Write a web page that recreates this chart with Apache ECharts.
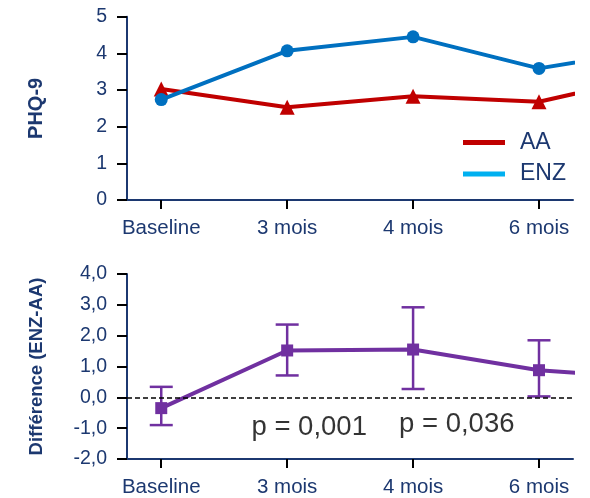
<!DOCTYPE html>
<html>
<head>
<meta charset="utf-8">
<script src="https://cdn.jsdelivr.net/npm/echarts@6/dist/echarts.min.js"></script>
<style>
html,body{margin:0;padding:0;background:#fff;}
#chart{width:590px;height:498px;}
</style>
</head>
<body>
<div id="chart"></div>
<script>
// Timepoints (the 5th value of each series is the next, off-axis timepoint whose segment is clipped at the right edge)
const categories = ['Baseline', '3 mois', '4 mois', '6 mois'];
const phqAA  = [3.03, 2.53, 2.83, 2.68, 3.46];
const phqENZ = [2.74, 4.07, 4.45, 3.59, 4.15];
const diffMean = [-0.35, 1.52, 1.55, 0.88, 0.58];
const diffLow  = [-0.90, 0.71, 0.27, 0.03];
const diffHigh = [0.34, 2.36, 2.92, 1.85];
const phqTicks = [0, 1, 2, 3, 4, 5];
const diffTicks = ['-2,0', '-1,0', '0,0', '1,0', '2,0', '3,0', '4,0'];
const pValues = ['p = 0,001', 'p = 0,036'];
const pAnchors = [[1.175, -0.98], [2.347, -0.87]];

const navy = '#1c3870';
const font = 'Liberation Sans, Arial, sans-serif';
const catIdx = categories.map((c, i) => i);

function xAxisCfg(gi) {
  return {
    type: 'value', gridIndex: gi, min: -0.272, max: 3.27,
    axisLine: { show: true, onZero: false, lineStyle: { color: navy, width: 2 } },
    axisTick: { show: true, customValues: catIdx, length: 9, lineStyle: { color: '#000', width: 2 } },
    axisLabel: { customValues: catIdx, formatter: v => categories[Math.round(v)], color: navy, fontSize: 20.5, margin: 18, fontFamily: font },
    splitLine: { show: false }
  };
}

const chart = echarts.init(document.getElementById('chart'), null, { renderer: 'canvas' });
chart.setOption({
  backgroundColor: '#fff',
  animation: false,
  grid: [
    { left: 127, right: 17, top: 16.7, height: 183.3 },
    { left: 127, right: 17, top: 274, height: 185 }
  ],
  xAxis: [xAxisCfg(0), xAxisCfg(1)],
  yAxis: [
    {
      type: 'value', gridIndex: 0, min: phqTicks[0], max: phqTicks[phqTicks.length - 1], interval: 1,
      name: 'PHQ-9', nameLocation: 'middle', nameRotate: 90, nameGap: 81,
      nameTextStyle: { color: navy, fontSize: 20, fontWeight: 'bold', fontFamily: font },
      axisLine: { show: true, onZero: false, lineStyle: { color: navy, width: 2 } },
      axisTick: { show: true, length: 10, lineStyle: { color: '#000', width: 2 } },
      axisLabel: { color: navy, fontSize: 19.5, margin: 20, fontFamily: font },
      splitLine: { show: false }
    },
    {
      type: 'value', gridIndex: 1, min: -2, max: 4, interval: 1,
      name: 'Différence (ENZ-AA)', nameLocation: 'middle', nameRotate: 90, nameGap: 81,
      nameTextStyle: { color: navy, fontSize: 18.5, fontWeight: 'bold', fontFamily: font },
      axisLine: { show: true, onZero: false, lineStyle: { color: navy, width: 2 } },
      axisTick: { show: true, length: 10, lineStyle: { color: '#000', width: 2 } },
      axisLabel: { color: navy, fontSize: 19.5, margin: 20, fontFamily: font,
        formatter: v => diffTicks[Math.round(v) + 2] },
      splitLine: { show: false }
    }
  ],
  legend: [
    {
      data: [{ name: 'AA', icon: 'rect', itemStyle: { color: '#c00000' } }],
      orient: 'vertical', left: 463, top: 131, padding: 0, itemWidth: 42, itemHeight: 5,
      textStyle: { fontSize: 23, color: navy, fontFamily: font, padding: [0, 0, 0, 10] }
    },
    {
      data: [{ name: 'ENZ', icon: 'rect', itemStyle: { color: '#00b0f0' } }],
      orient: 'vertical', left: 463, top: 162.5, padding: 0, itemWidth: 42, itemHeight: 5,
      textStyle: { fontSize: 23, color: navy, fontFamily: font, padding: [0, 0, 0, 10] }
    }
  ],
  series: [
    {
      name: 'AA', type: 'line', xAxisIndex: 0, yAxisIndex: 0, clip: true,
      data: phqAA.map((v, i) => [i, v]),
      symbol: 'triangle', symbolSize: 15,
      lineStyle: { color: '#c00000', width: 4 }, itemStyle: { color: '#c00000' }, z: 3
    },
    {
      name: 'ENZ', type: 'line', xAxisIndex: 0, yAxisIndex: 0, clip: true,
      data: phqENZ.map((v, i) => [i, v]),
      symbol: 'circle', symbolSize: 13,
      lineStyle: { color: '#0070c0', width: 4 }, itemStyle: { color: '#0070c0' }, z: 4
    },
    {
      name: 'errbars', type: 'custom', xAxisIndex: 1, yAxisIndex: 1, z: 2,
      data: diffLow.map((lo, i) => [i, lo, diffHigh[i]]),
      renderItem: function (params, api) {
        const x = api.value(0);
        const pLo = api.coord([x, api.value(1)]);
        const pHi = api.coord([x, api.value(2)]);
        const hw = 11.5;
        const st = { stroke: '#7030a0', lineWidth: 2.5 };
        return {
          type: 'group',
          children: [
            { type: 'line', shape: { x1: pLo[0], y1: pLo[1], x2: pHi[0], y2: pHi[1] }, style: st },
            { type: 'line', shape: { x1: pLo[0] - hw, y1: pLo[1], x2: pLo[0] + hw, y2: pLo[1] }, style: st },
            { type: 'line', shape: { x1: pHi[0] - hw, y1: pHi[1], x2: pHi[0] + hw, y2: pHi[1] }, style: st }
          ]
        };
      }
    },
    {
      name: 'diff', type: 'line', xAxisIndex: 1, yAxisIndex: 1, clip: true, z: 4,
      data: diffMean.map((v, i) => [i, v]),
      symbol: 'rect', symbolSize: 12,
      lineStyle: { color: '#7030a0', width: 4 }, itemStyle: { color: '#7030a0' },
      markLine: {
        silent: true, symbol: 'none', animation: false,
        label: { show: false },
        lineStyle: { color: '#000', type: [5, 3], width: 1.5 },
        data: [{ yAxis: 0 }]
      }
    },
    {
      name: 'pvals', type: 'scatter', xAxisIndex: 1, yAxisIndex: 1, silent: true,
      symbolSize: 0,
      data: pAnchors.map((a, i) => ({ value: a, name: pValues[i] })),
      label: { show: true, position: 'inside', formatter: p => p.name,
        fontSize: 27.5, color: '#000', fontFamily: font }
    }
  ]
});
</script>
</body>
</html>
